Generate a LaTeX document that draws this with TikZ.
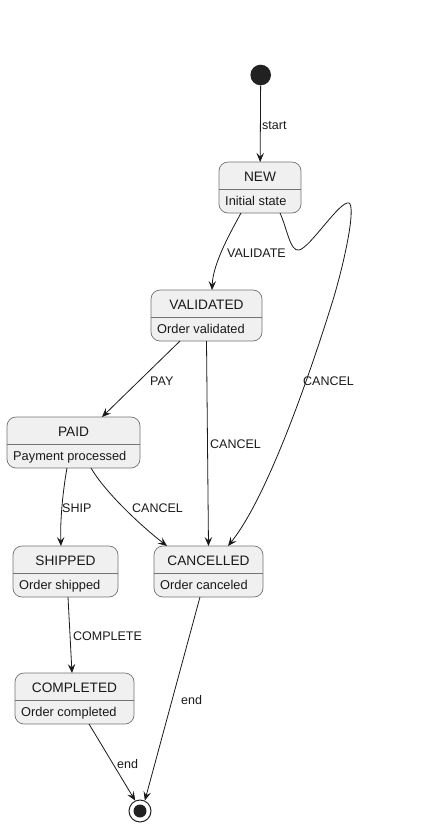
\documentclass[tikz,border=0pt]{standalone}
\usepackage{fontspec}
\setmainfont{Liberation Sans}
\usepackage{tikz}
\usetikzlibrary{arrows.meta}

\begin{document}
\begin{tikzpicture}[x=1pt,y=-1pt,
    state/.style={draw=black!55,line width=0.7pt,fill=black!6,rounded corners=9pt,
      minimum height=51pt,outer sep=0pt,inner sep=0pt,anchor=north west},
    divider/.style={draw=black!55,line width=0.7pt},
    title/.style={inner sep=0pt,font=\fontsize{13.7}{16}\selectfont,text=black!90},
    body/.style={inner sep=0pt,anchor=west,text height=8.6pt,text depth=2.5pt,
      font=\fontsize{12.8}{15}\selectfont,text=black!90},
    lbl/.style={inner sep=0pt,anchor=west,text height=8.6pt,text depth=0pt,
      font=\fontsize{12.5}{15}\selectfont,text=black!90},
    edge/.style={draw=black!90,line width=0.8pt,-{Stealth[length=9pt,width=7.5pt,inset=3.5pt]}}]
      \path[use as bounding box] (0,0) rectangle (434,828); % whole page
      \node[circle,fill=black!87,minimum size=20.6pt,inner sep=0pt] (init) at (260.7,75) {};
      \node[circle,draw=black!85,line width=1pt,fill=white,minimum size=22pt,inner sep=0pt] (final) at (140,811) {};
      \node[circle,fill=black!87,minimum size=13pt,inner sep=0pt] (final dot) at (140,811) {};

      \node[state,minimum width=82pt] (new) at (219,162) {};
      \draw[divider] ([yshift=-27pt]new.north west) -- ([yshift=-27pt]new.north east);
      \node[title] (new title) at ([yshift=-14.5pt]new.north) {NEW};
      \node[body] (new body) at ([xshift=6pt,yshift=-40.5pt]new.north west) {Initial state};

      \node[state,minimum width=111pt] (validated) at (151,290) {};
      \draw[divider] ([yshift=-27pt]validated.north west) -- ([yshift=-27pt]validated.north east);
      \node[title] (validated title) at ([yshift=-14.5pt]validated.north) {VALIDATED};
      \node[body] (validated body) at ([xshift=6pt,yshift=-40.5pt]validated.north west) {Order validated};

      \node[state,minimum width=133pt] (paid) at (7,417) {};
      \draw[divider] ([yshift=-27pt]paid.north west) -- ([yshift=-27pt]paid.north east);
      \node[title] (paid title) at ([yshift=-14.5pt]paid.north) {PAID};
      \node[body] (paid body) at ([xshift=6pt,yshift=-40.5pt]paid.north west) {Payment processed};

      \node[state,minimum width=105pt] (shipped) at (13,546) {};
      \draw[divider] ([yshift=-27pt]shipped.north west) -- ([yshift=-27pt]shipped.north east);
      \node[title] (shipped title) at ([yshift=-14.5pt]shipped.north) {SHIPPED};
      \node[body] (shipped body) at ([xshift=6pt,yshift=-40.5pt]shipped.north west) {Order shipped};

      \node[state,minimum width=109pt] (cancelled) at (154,546) {};
      \draw[divider] ([yshift=-27pt]cancelled.north west) -- ([yshift=-27pt]cancelled.north east);
      \node[title] (cancelled title) at ([yshift=-14.5pt]cancelled.north) {CANCELLED};
      \node[body] (cancelled body) at ([xshift=6pt,yshift=-40.5pt]cancelled.north west) {Order canceled};

      \node[state,minimum width=119pt] (completed) at (15,673) {};
      \draw[divider] ([yshift=-27pt]completed.north west) -- ([yshift=-27pt]completed.north east);
      \node[title] (completed title) at ([yshift=-14.5pt]completed.north) {COMPLETED};
      \node[body] (completed body) at ([xshift=6pt,yshift=-40.5pt]completed.north west) {Order completed};

      \draw[edge] (init) -- (new);
      \draw[edge] ([xshift=-19pt]new.south) .. controls (233,228) and (213,262) .. ([xshift=5.5pt]validated.north);
      \draw[edge] ([xshift=20pt]new.south) .. controls (287,228) and (290,252) .. (299,250)
        .. controls (310,248) and (340,200) .. (349,203)
        .. controls (356,207) and (345,260) .. (333,300)
        .. controls (305,390) and (265,500) .. ([xshift=19.5pt]cancelled.north);
      \draw[edge] ([xshift=-26.5pt]validated.south) -- ([xshift=28.5pt]paid.north);
      \draw[edge] (validated.south) -- (cancelled.north);
      \draw[edge] ([xshift=-6.5pt]paid.south) .. controls (63,490) and (60,520) .. ([xshift=-4.5pt]shipped.north);
      \draw[edge] ([xshift=17.5pt]paid.south) .. controls (105,492) and (140,525) .. ([xshift=-41.5pt]cancelled.north);
      \draw[edge] ([xshift=2.5pt]shipped.south) -- ([xshift=-2.5pt]completed.north);
      \draw[edge] ([xshift=-8.5pt]cancelled.south) -- (final.65);
      \draw[edge] ([xshift=14.5pt]completed.south) -- (final.115);

      \node[lbl] (start label) at (262,125) {start};
      \node[lbl] (validate label) at (227,253) {VALIDATE};
      \node[lbl] (new cancel label) at (303,381) {CANCEL};
      \node[lbl] (pay label) at (150,381) {PAY};
      \node[lbl] (validated cancel label) at (210,444) {CANCEL};
      \node[lbl] (ship label) at (62,508) {SHIP};
      \node[lbl] (paid cancel label) at (132,508) {CANCEL};
      \node[lbl] (complete label) at (73,636) {COMPLETE};
      \node[lbl] (cancelled end label) at (181,700) {end};
      \node[lbl] (completed end label) at (117,764) {end};
    \end{tikzpicture}
\end{document}
